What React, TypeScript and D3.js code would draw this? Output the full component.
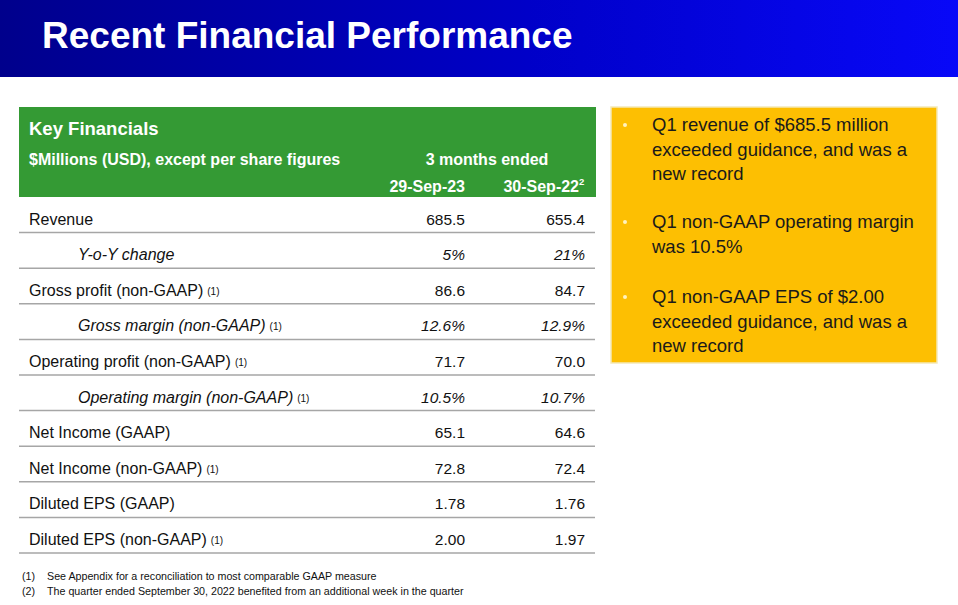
import React from "react";
import * as d3 from "d3";

const title = "Recent Financial Performance";
const tableTitle = "Key Financials";
const unitsLabel = "$Millions (USD), except per share figures";
const periodLabel = "3 months ended";
const columns = ["29-Sep-23", "30-Sep-22"];
const columnSup = ["", "2"];

const rowLabels = [
  "Revenue",
  "Y-o-Y change",
  "Gross profit (non-GAAP)",
  "Gross margin (non-GAAP)",
  "Operating profit (non-GAAP)",
  "Operating margin (non-GAAP)",
  "Net Income (GAAP)",
  "Net Income (non-GAAP)",
  "Diluted EPS (GAAP)",
  "Diluted EPS (non-GAAP)",
];
const rowItalic = [false, true, false, true, false, true, false, false, false, false];
const rowNote = [false, false, true, true, true, true, false, true, false, true];
const values2023 = ["685.5", "5%", "86.6", "12.6%", "71.7", "10.5%", "65.1", "72.8", "1.78", "2.00"];
const values2022 = ["655.4", "21%", "84.7", "12.9%", "70.0", "10.7%", "64.6", "72.4", "1.76", "1.97"];

const bullets = [
  ["Q1 revenue of $685.5 million", "exceeded guidance, and was a", "new record"],
  ["Q1 non-GAAP operating margin", "was 10.5%"],
  ["Q1 non-GAAP EPS of $2.00", "exceeded guidance, and was a", "new record"],
];

const footnotes = [
  ["(1)", "See Appendix for a reconciliation to most comparable GAAP measure"],
  ["(2)", "The quarter ended September 30, 2022 benefited from an additional week in the quarter"],
];

const W = 958;
const H = 605;
const FONT = "'Liberation Sans', Arial, Helvetica, sans-serif";

export default function App() {
  const rowScale = d3
    .scaleBand<number>()
    .domain(d3.range(rowLabels.length))
    .range([197, 553])
    .padding(0);
  const colRight = d3.scaleOrdinal<number, number>().domain([0, 1]).range([465, 585]);
  const bulletScale = d3.scaleOrdinal<number, number>().domain([0, 1, 2]).range([131, 228, 303]);
  const lineH = 24.5;

  return (
    <svg
      width={W}
      height={H}
      viewBox={`0 0 ${W} ${H}`}
      style={{ position: "absolute", left: 0, top: 0, fontFamily: FONT }}
    >
      <defs>
        <linearGradient id="hdr" x1="0" x2="1" y1="0" y2="0">
          <stop offset="0%" stopColor="#00008c" />
          <stop offset="55%" stopColor="#0000c8" />
          <stop offset="100%" stopColor="#0808f8" />
        </linearGradient>
      </defs>
      <rect x={0} y={0} width={W} height={H} fill="#ffffff" />
      <rect x={0} y={0} width={W} height={77} fill="url(#hdr)" />
      <text x={42} y={48} fill="#ffffff" fontSize={37} fontWeight="bold">
        {title}
      </text>

      {/* green table header */}
      <rect x={19} y={107} width={577} height={90} fill="#349a34" />
      <text x={29} y={135} fill="#ffffff" fontSize={18.5} fontWeight="bold">
        {tableTitle}
      </text>
      <text x={29} y={165} fill="#ffffff" fontSize={16} fontWeight="bold">
        {unitsLabel}
      </text>
      <text x={487} y={165} fill="#ffffff" fontSize={16} fontWeight="bold" textAnchor="middle">
        {periodLabel}
      </text>
      {columns.map((c, i) => (
        <text
          key={c}
          x={colRight(i) + (columnSup[i] ? -6 : 0)}
          y={192}
          fill="#ffffff"
          fontSize={16}
          fontWeight="bold"
          textAnchor="end"
        >
          {c}
        </text>
      ))}
      {columns.map((c, i) =>
        columnSup[i] ? (
          <text key={c + "s"} x={colRight(i) - 6} y={185} fill="#ffffff" fontSize={9.5} fontWeight="bold">
            {columnSup[i]}
          </text>
        ) : null
      )}

      {/* table rows */}
      {rowLabels.map((label, i) => {
        const y0 = rowScale(i)!;
        const bottom = y0 + rowScale.bandwidth();
        const base = bottom - 8;
        const italic = rowItalic[i];
        return (
          <g key={label}>
            <text x={italic ? 78 : 29} y={base} fontSize={16} fill="#111" fontStyle={italic ? "italic" : "normal"}>
              {label}
              {rowNote[i] ? (
                <tspan fontSize={10} fontStyle="normal" dx={4} dy={-1}>
                  (1)
                </tspan>
              ) : null}
            </text>
            <text x={colRight(0)} y={base} fontSize={15.5} fill="#111" textAnchor="end" fontStyle={italic ? "italic" : "normal"}>
              {values2023[i]}
            </text>
            <text x={colRight(1)} y={base} fontSize={15.5} fill="#111" textAnchor="end" fontStyle={italic ? "italic" : "normal"}>
              {values2022[i]}
            </text>
            <line x1={19} x2={595} y1={bottom} y2={bottom} stroke="#a6a6a6" strokeWidth={1.5} />
          </g>
        );
      })}

      {/* footnotes */}
      {footnotes.map((f, i) => (
        <g key={f[0]}>
          <text x={22} y={580 + i * 15} fontSize={10.7} fill="#111">
            {f[0]}
          </text>
          <text x={47} y={580 + i * 15} fontSize={10.7} fill="#111">
            {f[1]}
          </text>
        </g>
      ))}

      {/* yellow highlight box */}
      <rect x={611} y={107} width={326} height={256} fill="#fdbf02" />
      <rect x={611} y={107} width={326} height={256} fill="none" stroke="#f3e9b8" strokeWidth={1.5} />
      {bullets.map((lines, bi) => (
        <g key={bi}>
          <circle cx={625} cy={bulletScale(bi) - 6} r={2} fill="#fff3c0" />
          {lines.map((ln, li) => (
            <text key={li} x={652} y={bulletScale(bi) + li * lineH} fontSize={18.5} fill="#1a1a1a">
              {ln}
            </text>
          ))}
        </g>
      ))}
    </svg>
  );
}
